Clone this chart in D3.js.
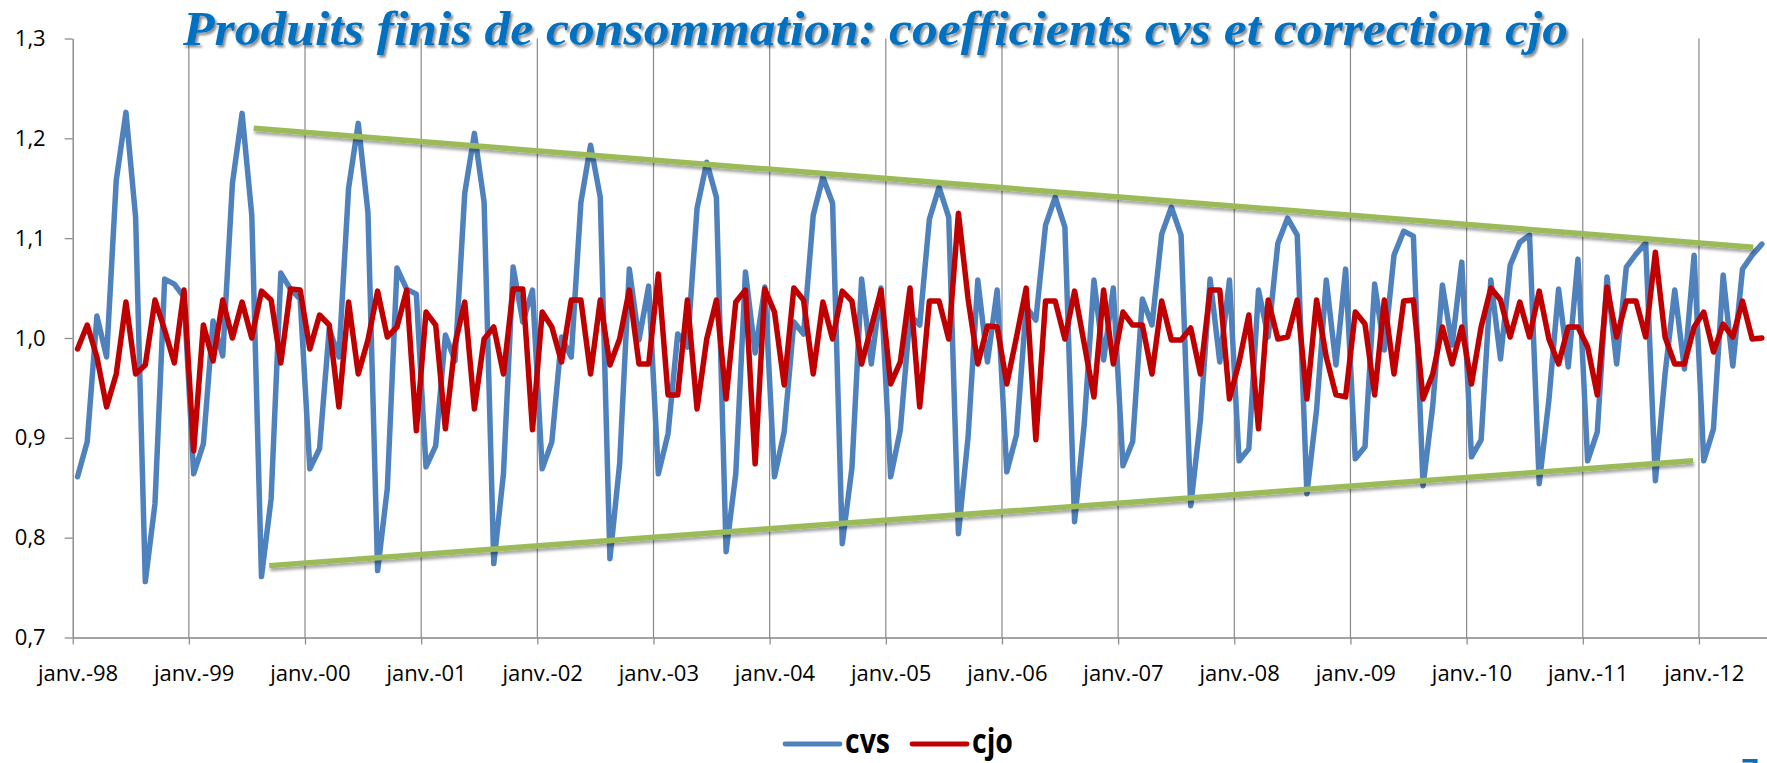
<!DOCTYPE html>
<html>
<head>
<meta charset="utf-8">
<script src="https://cdn.jsdelivr.net/npm/d3@7"></script>
<style>
  html, body { margin: 0; padding: 0; background: #fff; }
  svg { display: block; }
</style>
</head>
<body>
<div id="chart"></div>
<script>
// monthly coefficients, janv. 1998 -> juil. 2012
var cvs = [
  0.861, 0.896, 1.022, 0.981, 1.158, 1.226, 1.121, 0.756, 0.834, 1.059, 1.054, 1.041,
  0.864, 0.894, 1.017, 0.982, 1.155, 1.225, 1.123, 0.761, 0.839, 1.065, 1.049, 1.039,
  0.869, 0.889, 1.009, 0.981, 1.150, 1.215, 1.126, 0.767, 0.849, 1.070, 1.049, 1.044,
  0.871, 0.892, 1.003, 0.977, 1.145, 1.205, 1.136, 0.774, 0.864, 1.071, 1.016, 1.048,
  0.869, 0.896, 1.001, 0.981, 1.136, 1.193, 1.141, 0.779, 0.874, 1.069, 0.998, 1.052,
  0.864, 0.904, 1.004, 0.991, 1.130, 1.176, 1.141, 0.786, 0.864, 1.066, 0.985, 1.051,
  0.861, 0.906, 1.016, 1.004, 1.123, 1.161, 1.135, 0.794, 0.870, 1.059, 0.974, 1.050,
  0.861, 0.908, 1.023, 1.013, 1.119, 1.151, 1.121, 0.804, 0.901, 1.058, 0.976, 1.048,
  0.866, 0.903, 1.031, 1.018, 1.113, 1.141, 1.111, 0.816, 0.914, 1.058, 0.978, 1.050,
  0.872, 0.896, 1.039, 1.013, 1.104, 1.131, 1.103, 0.832, 0.918, 1.059, 0.976, 1.058,
  0.877, 0.889, 1.048, 1.001, 1.095, 1.120, 1.103, 0.844, 0.928, 1.058, 0.973, 1.069,
  0.879, 0.891, 1.054, 0.988, 1.083, 1.107, 1.102, 0.852, 0.932, 1.053, 0.993, 1.076,
  0.881, 0.898, 1.058, 0.979, 1.073, 1.096, 1.103, 0.854, 0.938, 1.049, 0.971, 1.079,
  0.877, 0.906, 1.061, 0.974, 1.071, 1.084, 1.095, 0.857, 0.964, 1.048, 0.969, 1.083,
  0.877, 0.909, 1.063, 0.972, 1.069, 1.083, 1.094
];

var cjo = [
  0.989, 1.013, 0.981, 0.931, 0.964, 1.036, 0.964, 0.973, 1.038, 1.008, 0.975, 1.048,
  0.887, 1.013, 0.977, 1.038, 1.000, 1.036, 1.000, 1.047, 1.038, 0.975, 1.049, 1.048,
  0.989, 1.023, 1.013, 0.931, 1.036, 0.964, 0.998, 1.047, 1.001, 1.011, 1.048, 0.907,
  1.026, 1.013, 0.909, 0.994, 1.036, 0.929, 0.999, 1.011, 0.964, 1.049, 1.049, 0.908,
  1.026, 1.011, 0.976, 1.038, 1.038, 0.964, 1.038, 0.973, 0.999, 1.048, 0.974, 0.974,
  1.064, 0.943, 0.943, 1.038, 0.929, 0.999, 1.038, 0.939, 1.036, 1.048, 0.874, 1.049,
  1.026, 0.953, 1.050, 1.038, 0.964, 1.036, 0.999, 1.047, 1.037, 0.974, 1.011, 1.048,
  0.954, 0.976, 1.050, 0.931, 1.037, 1.037, 0.999, 1.125, 1.039, 0.974, 1.012, 1.011,
  0.954, 1.001, 1.050, 0.898, 1.037, 1.037, 0.999, 1.047, 0.994, 0.941, 1.048, 0.974,
  1.026, 1.013, 1.013, 0.964, 1.037, 0.998, 0.998, 1.010, 0.964, 1.048, 1.048, 0.939,
  0.976, 1.023, 0.909, 1.038, 0.999, 1.001, 1.038, 0.939, 1.038, 0.981, 0.943, 0.941,
  1.026, 1.014, 0.943, 1.038, 0.964, 1.037, 1.038, 0.939, 0.964, 1.011, 0.974, 1.011,
  0.954, 1.011, 1.050, 1.038, 1.001, 1.036, 1.001, 1.047, 0.999, 0.974, 1.011, 1.011,
  0.991, 0.943, 1.051, 1.001, 1.037, 1.037, 1.001, 1.086, 1.001, 0.974, 0.974, 1.011,
  1.026, 0.986, 1.014, 1.001, 1.037, 0.999, 1.000
];

var yearLabels = ["janv.-98", "janv.-99", "janv.-00", "janv.-01", "janv.-02",
  "janv.-03", "janv.-04", "janv.-05", "janv.-06", "janv.-07", "janv.-08",
  "janv.-09", "janv.-10", "janv.-11", "janv.-12"];

var yTicks = [0.7, 0.8, 0.9, 1.0, 1.1, 1.2, 1.3];

// hand drawn envelope (position in months, value)
var upperTrend = [[18.7, 1.210], [173.6, 1.091]];
var lowerTrend = [[20.3, 0.772], [167.4, 0.877]];

var seriesNames = ["cvs", "cjo"];
var seriesColors = ["#4F81BD", "#C00000"];

var svgWidth = 1767;
var svgHeight = 763;

var margin = { top: 38.5, right: 0.3, bottom: 125.5, left: 72.7 };
var chartWidth = svgWidth - margin.left - margin.right;
var chartHeight = svgHeight - margin.top - margin.bottom;

var svg = d3.select("#chart")
  .append("svg")
  .attr("width", svgWidth)
  .attr("height", svgHeight);

var defs = svg.append("defs");
defs.append("filter")
  .attr("id", "lineShadow")
  .attr("filterUnits", "userSpaceOnUse")
  .attr("x", 0).attr("y", 0).attr("width", svgWidth).attr("height", svgHeight)
  .append("feDropShadow")
  .attr("dx", 1).attr("dy", 3).attr("stdDeviation", 1.6)
  .attr("flood-color", "#000").attr("flood-opacity", 0.35);
defs.append("filter")
  .attr("id", "titleShadow")
  .attr("filterUnits", "userSpaceOnUse")
  .attr("x", 0).attr("y", 0).attr("width", svgWidth).attr("height", 120)
  .append("feDropShadow")
  .attr("dx", 2).attr("dy", 2.5).attr("stdDeviation", 1.3)
  .attr("flood-color", "#000").attr("flood-opacity", 0.45);

var chartGroup = svg.append("g")
  .attr("transform", `translate(${margin.left}, ${margin.top})`);

var x = d3.scaleLinear()
  .domain([0, cvs.length])
  .range([0, chartWidth]);

var y = d3.scaleLinear()
  .domain([0.7, 1.3])
  .range([chartHeight, 0]);

var yearStarts = yearLabels.map((d, i) => i * 12);

// vertical gridlines
chartGroup.append("g")
  .selectAll("line")
  .data(yearStarts.slice(1))
  .enter()
  .append("line")
  .attr("x1", d => x(d)).attr("x2", d => x(d))
  .attr("y1", 0).attr("y2", chartHeight)
  .attr("stroke", "#888")
  .attr("stroke-width", 1.2);

var bottomAxis = d3.axisBottom(x)
  .tickValues(yearStarts)
  .tickFormat((d, i) => yearLabels[i])
  .tickSizeInner(7)
  .tickSizeOuter(0)
  .tickPadding(21);

var leftAxis = d3.axisLeft(y)
  .tickValues(yTicks)
  .tickFormat(d => d3.format(".1f")(d).replace(".", ","))
  .tickSizeInner(8)
  .tickSizeOuter(0)
  .tickPadding(19);

var xAxisG = chartGroup.append("g")
  .attr("transform", `translate(0, ${chartHeight})`)
  .call(bottomAxis);

xAxisG.selectAll("text")
  .attr("x", x(0.5) - x(0));

var yAxisG = chartGroup.append("g")
  .call(leftAxis);

[xAxisG, yAxisG].forEach(function(g) {
  g.select(".domain").attr("stroke", "#868686").attr("stroke-width", 1.4);
  g.selectAll(".tick line").attr("stroke", "#868686").attr("stroke-width", 1.2);
  g.selectAll("text")
    .attr("fill", "#000")
    .style("font-family", "'Open Sans', 'Noto Sans', sans-serif")
    .style("font-size", "22px");
});

var line = d3.line()
  .x((d, i) => x(i + 0.5))
  .y(d => y(d));

[cvs, cjo].forEach(function(series, k) {
  chartGroup.append("path")
    .datum(series)
    .attr("d", line)
    .attr("fill", "none")
    .attr("stroke", seriesColors[k])
    .attr("stroke-width", 5.5)
    .attr("stroke-linejoin", "round")
    .attr("stroke-linecap", "round");
});

var trendLine = d3.line()
  .x(d => x(d[0]))
  .y(d => y(d[1]));

[upperTrend, lowerTrend].forEach(function(t) {
  chartGroup.append("path")
    .datum(t)
    .attr("d", trendLine)
    .attr("fill", "none")
    .attr("stroke", "#9BBB59")
    .attr("stroke-width", 5.5)
    .attr("filter", "url(#lineShadow)");
});

// title
svg.append("text")
  .attr("x", 183)
  .attr("y", 45)
  .attr("textLength", 1385)
  .attr("lengthAdjust", "spacingAndGlyphs")
  .attr("fill", "#0070C0")
  .attr("filter", "url(#titleShadow)")
  .style("font-family", "'Liberation Serif', 'DejaVu Serif', serif")
  .style("font-weight", "bold")
  .style("font-style", "italic")
  .style("font-size", "49px")
  .text("Produits finis de consommation: coefficients cvs et correction cjo");

// legend
var legendX = [785, 912];
var legendText = [45, 41];
var legend = svg.append("g");
seriesNames.forEach(function(name, k) {
  legend.append("line")
    .attr("x1", legendX[k]).attr("x2", legendX[k] + 55)
    .attr("y1", 744).attr("y2", 744)
    .attr("stroke", seriesColors[k])
    .attr("stroke-width", 4.8)
    .attr("stroke-linecap", "round");
  legend.append("text")
    .attr("x", legendX[k] + 60)
    .attr("y", 753)
    .attr("textLength", legendText[k])
    .attr("lengthAdjust", "spacingAndGlyphs")
    .attr("fill", "#000")
    .style("font-family", "'Open Sans', sans-serif")
    .style("font-weight", "bold")
    .style("font-size", "34px")
    .text(name);
});

// slide number, cut by the bottom edge
svg.append("text")
  .attr("x", 1741)
  .attr("y", 781)
  .attr("fill", "#0070C0")
  .style("font-family", "'Liberation Sans', sans-serif")
  .style("font-weight", "bold")
  .style("font-size", "32px")
  .text("7");
</script>
</body>
</html>
